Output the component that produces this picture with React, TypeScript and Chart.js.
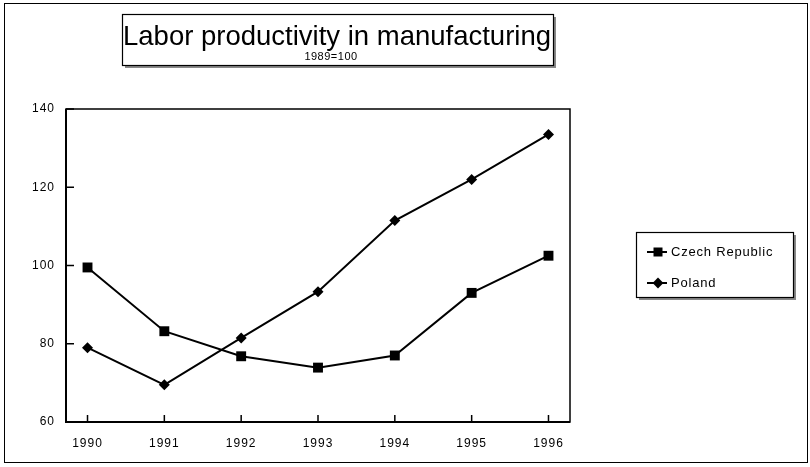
import React, { useEffect, useRef } from "react";
import { Chart, registerables } from "chart.js";
Chart.register(...registerables);

const years = [1990, 1991, 1992, 1993, 1994, 1995, 1996];
const czech = [99.5, 83.2, 76.8, 73.9, 77.0, 93.0, 102.5];
const poland = [79.0, 69.5, 81.5, 93.3, 111.5, 122.0, 133.5];
const yTicks = [60, 80, 100, 120, 140];
const titleText = "Labor productivity in manufacturing";
const subtitleText = "1989=100";
const seriesNames = ["Czech Republic", "Poland"];
const markerStyles = ["rect", "rectRot"];

const FONT = "'Liberation Sans', Arial, Helvetica, sans-serif";

function drawMarker(ctx: CanvasRenderingContext2D, style: string, x: number, y: number, r: number) {
  ctx.beginPath();
  if (style === "rect") {
    ctx.rect(x - r, y - r, 2 * r, 2 * r);
  } else {
    ctx.moveTo(x, y - r * 1.2);
    ctx.lineTo(x + r * 1.2, y);
    ctx.lineTo(x, y + r * 1.2);
    ctx.lineTo(x - r * 1.2, y);
    ctx.closePath();
  }
  ctx.fill();
}

function shadowBox(ctx: CanvasRenderingContext2D, x: number, y: number, w: number, h: number) {
  ctx.fillStyle = "#888";
  ctx.fillRect(x + 3, y + 3, w, h);
  ctx.fillStyle = "#fff";
  ctx.fillRect(x, y, w, h);
  ctx.lineWidth = 1.2;
  ctx.strokeStyle = "#000";
  ctx.strokeRect(x + 0.5, y + 0.5, w, h);
}

const decor = {
  id: "decor",
  beforeDraw(chart: any) {
    const ctx = chart.ctx;
    ctx.fillStyle = "#fff";
    ctx.fillRect(0, 0, chart.width, chart.height);
    (ctx as any).letterSpacing = "1px";
  },
  afterDraw(chart: any) {
    const ctx: CanvasRenderingContext2D = chart.ctx;
    const area = chart.chartArea;
    const xs = chart.scales.x;
    const ys = chart.scales.y;
    ctx.save();
    (ctx as any).letterSpacing = "0px";
    // outer frame
    ctx.strokeStyle = "#000";
    ctx.lineWidth = 1;
    ctx.strokeRect(4.5, 3.5, 803, 459);

    // plot box
    ctx.lineWidth = 1.5;
    ctx.strokeRect(area.left, area.top, area.right - area.left, area.bottom - area.top);
    ctx.lineWidth = 2;
    ctx.beginPath();
    ctx.moveTo(area.left, area.top);
    ctx.lineTo(area.left, area.bottom);
    ctx.lineTo(area.right, area.bottom);
    ctx.stroke();

    // inward ticks
    ctx.lineWidth = 1.5;
    ctx.beginPath();
    for (const v of yTicks) {
      const py = ys.getPixelForValue(v);
      ctx.moveTo(area.left, py);
      ctx.lineTo(area.left + 8, py);
    }
    for (const v of years) {
      const px = xs.getPixelForValue(v);
      ctx.moveTo(px, area.bottom);
      ctx.lineTo(px, area.bottom - 7);
    }
    ctx.stroke();

    // title box
    const tb = { x: 122, y: 14, w: 431, h: 51 };
    shadowBox(ctx, tb.x, tb.y, tb.w, tb.h);
    ctx.fillStyle = "#000";
    ctx.textAlign = "center";
    ctx.textBaseline = "alphabetic";
    ctx.font = `27.5px ${FONT}`;
    ctx.fillText(titleText, 337, 45);
    (ctx as any).letterSpacing = "0.5px";
    ctx.font = `11px ${FONT}`;
    ctx.fillText(subtitleText, 331, 60);

    // legend box
    const lb = { x: 636, y: 232, w: 157, h: 65 };
    shadowBox(ctx, lb.x, lb.y, lb.w, lb.h);
    (ctx as any).letterSpacing = "0.8px";
    ctx.font = `13px ${FONT}`;
    ctx.textAlign = "left";
    ctx.textBaseline = "middle";
    seriesNames.forEach((name, i) => {
      const cy = lb.y + 20 + i * 31;
      ctx.fillStyle = "#000";
      ctx.lineWidth = 2;
      ctx.beginPath();
      ctx.moveTo(lb.x + 11, cy);
      ctx.lineTo(lb.x + 31, cy);
      ctx.stroke();
      drawMarker(ctx, markerStyles[i], lb.x + 22, cy, 4.5);
      ctx.fillText(name, lb.x + 35, cy);
    });
    ctx.restore();
  },
};

export default function App() {
  const ref = useRef<HTMLCanvasElement | null>(null);
  useEffect(() => {
    if (!ref.current) return;
    const chart = new Chart(ref.current, {
      type: "line",
      data: {
        datasets: [
          {
            label: seriesNames[0],
            data: years.map((x, i) => ({ x, y: czech[i] })),
            borderColor: "#000",
            backgroundColor: "#000",
            borderWidth: 2,
            pointStyle: "rect",
            pointRadius: 7,
            pointBorderWidth: 0,
            tension: 0,
          },
          {
            label: seriesNames[1],
            data: years.map((x, i) => ({ x, y: poland[i] })),
            borderColor: "#000",
            backgroundColor: "#000",
            borderWidth: 2,
            pointStyle: "rectRot",
            pointRadius: 5.5,
            pointBorderWidth: 0,
            tension: 0,
          },
        ],
      },
      options: {
        responsive: false,
        animation: false,
        layout: { padding: { left: 0, top: 109, right: 240, bottom: 0 } },
        plugins: {
          legend: { display: false },
          title: { display: false },
          tooltip: { enabled: false },
        },
        scales: {
          x: {
            type: "linear",
            min: 1989.72,
            max: 1996.28,
            afterBuildTicks: (s: any) => {
              s.ticks = years.map((v) => ({ value: v }));
            },
            afterFit: (s: any) => {
              s.height = 45;
            },
            grid: { display: false, drawTicks: false },
            border: { display: false },
            ticks: {
              padding: 14,
              color: "#000",
              font: { family: FONT, size: 12 },
              callback: (v: any) => String(v),
            },
          },
          y: {
            min: 60,
            max: 140,
            afterBuildTicks: (s: any) => {
              s.ticks = yTicks.map((v) => ({ value: v }));
            },
            afterFit: (s: any) => {
              s.width = 66;
            },
            grid: { display: false, drawTicks: false },
            border: { display: false },
            ticks: {
              padding: 11,
              color: "#000",
              font: { family: FONT, size: 12 },
              callback: (v: any) => String(v),
            },
          },
        },
      },
      plugins: [decor],
    });
    return () => chart.destroy();
  }, []);
  return (
    <div style={{ position: "fixed", left: 0, top: 0, width: 810, height: 467, background: "#fff" }}>
      <canvas ref={ref} width={810} height={467} style={{ width: 810, height: 467 }} />
    </div>
  );
}
